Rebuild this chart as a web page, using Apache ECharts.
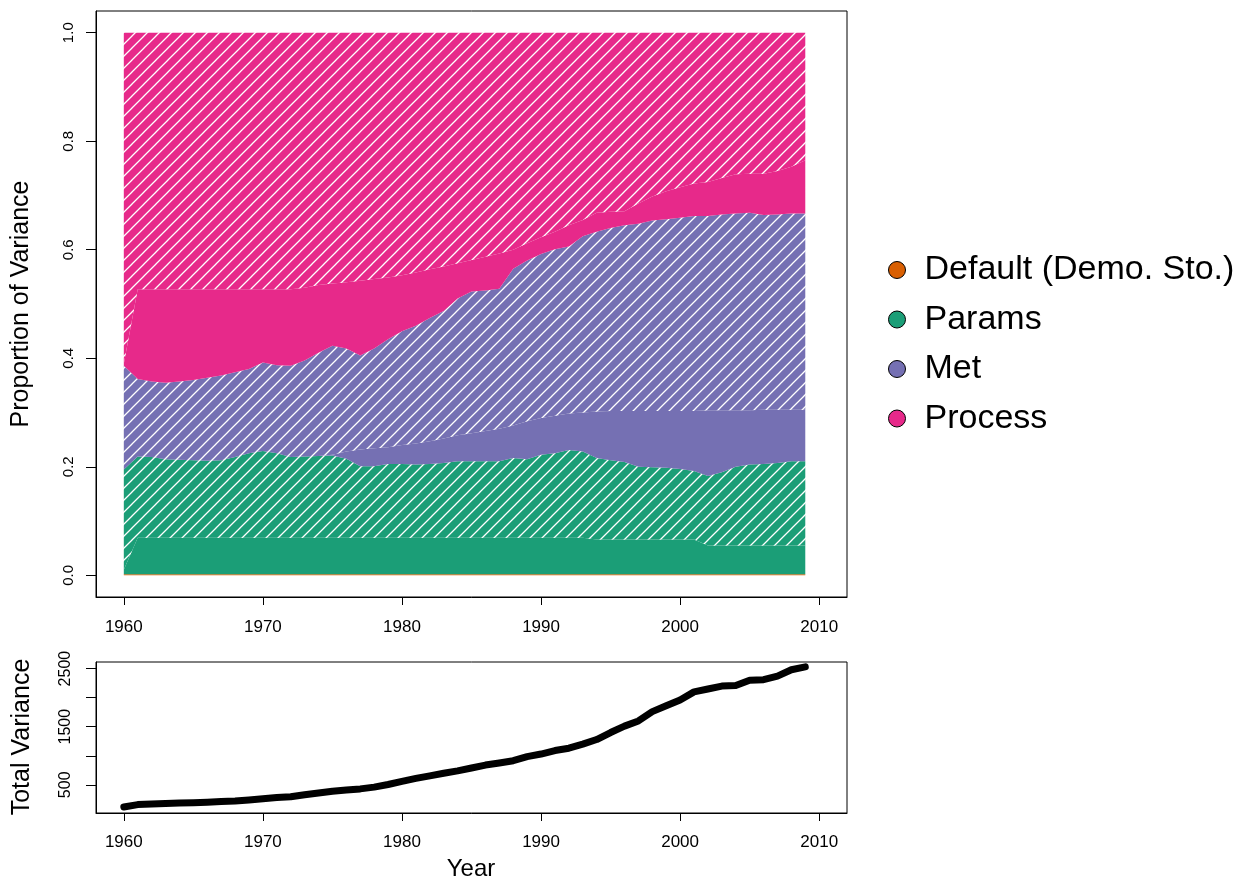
<!DOCTYPE html>
<html>
<head>
<meta charset="utf-8">
<title>Variance partitioning</title>
<script src="https://cdn.jsdelivr.net/npm/echarts@6/dist/echarts.min.js"></script>
<style>
  html, body { margin: 0; padding: 0; background: #fff; }
  #chart { width: 1253px; height: 882px; }
</style>
</head>
<body>
<div id="chart"></div>
<script>
// Years of the simulation
const years = [
  1960, 1961, 1962, 1963, 1964, 1965, 1966, 1967, 1968, 1969,
  1970, 1971, 1972, 1973, 1974, 1975, 1976, 1977, 1978, 1979,
  1980, 1981, 1982, 1983, 1984, 1985, 1986, 1987, 1988, 1989,
  1990, 1991, 1992, 1993, 1994, 1995, 1996, 1997, 1998, 1999,
  2000, 2001, 2002, 2003, 2004, 2005, 2006, 2007, 2008, 2009
];

// Cumulative upper edges of each band (proportion of variance)
const defaultTop = [
  0.002, 0.002, 0.002, 0.002, 0.002, 0.002, 0.002, 0.002, 0.002, 0.002,
  0.002, 0.002, 0.002, 0.002, 0.002, 0.002, 0.002, 0.002, 0.002, 0.002,
  0.002, 0.002, 0.002, 0.002, 0.002, 0.002, 0.002, 0.002, 0.002, 0.002,
  0.002, 0.002, 0.002, 0.002, 0.002, 0.002, 0.002, 0.002, 0.002, 0.002,
  0.002, 0.002, 0.002, 0.002, 0.002, 0.002, 0.002, 0.002, 0.002, 0.002
];
const paramsSolidTop = [
  0.010, 0.069, 0.069, 0.069, 0.069, 0.069, 0.069, 0.069, 0.069, 0.069,
  0.069, 0.069, 0.069, 0.069, 0.069, 0.069, 0.069, 0.069, 0.069, 0.069,
  0.069, 0.069, 0.069, 0.069, 0.069, 0.069, 0.069, 0.069, 0.069, 0.069,
  0.069, 0.069, 0.069, 0.069, 0.066, 0.066, 0.066, 0.066, 0.066, 0.066,
  0.066, 0.066, 0.055, 0.055, 0.055, 0.055, 0.055, 0.055, 0.055, 0.055
];
const paramsTop = [
  0.195, 0.219, 0.218, 0.214, 0.213, 0.212, 0.211, 0.212, 0.218, 0.225,
  0.229, 0.225, 0.218, 0.219, 0.220, 0.221, 0.215, 0.201, 0.201, 0.205,
  0.205, 0.204, 0.205, 0.207, 0.210, 0.210, 0.210, 0.210, 0.216, 0.214,
  0.222, 0.225, 0.231, 0.228, 0.216, 0.212, 0.209, 0.200, 0.199, 0.198,
  0.196, 0.192, 0.183, 0.190, 0.200, 0.204, 0.205, 0.207, 0.210, 0.210
];
const metSolidTop = [
  0.195, 0.219, 0.218, 0.214, 0.213, 0.212, 0.211, 0.212, 0.218, 0.225,
  0.229, 0.225, 0.218, 0.219, 0.220, 0.222, 0.228, 0.232, 0.234, 0.236,
  0.240, 0.243, 0.247, 0.252, 0.258, 0.262, 0.266, 0.270, 0.276, 0.284,
  0.290, 0.294, 0.298, 0.300, 0.302, 0.303, 0.303, 0.303, 0.303, 0.303,
  0.303, 0.303, 0.304, 0.304, 0.304, 0.304, 0.305, 0.305, 0.305, 0.305
];
const metTop = [
  0.386, 0.362, 0.357, 0.355, 0.357, 0.360, 0.364, 0.368, 0.374, 0.380,
  0.392, 0.387, 0.386, 0.396, 0.410, 0.423, 0.418, 0.405, 0.418, 0.435,
  0.450, 0.460, 0.474, 0.487, 0.510, 0.523, 0.525, 0.528, 0.565, 0.580,
  0.592, 0.601, 0.606, 0.625, 0.633, 0.640, 0.645, 0.648, 0.654, 0.656,
  0.659, 0.662, 0.662, 0.665, 0.667, 0.668, 0.664, 0.665, 0.667, 0.667
];
const processSolidTop = [
  0.390, 0.527, 0.527, 0.527, 0.527, 0.527, 0.527, 0.527, 0.527, 0.527,
  0.527, 0.527, 0.527, 0.530, 0.535, 0.538, 0.540, 0.543, 0.546, 0.549,
  0.553, 0.558, 0.564, 0.569, 0.575, 0.581, 0.587, 0.593, 0.600, 0.612,
  0.623, 0.633, 0.645, 0.655, 0.668, 0.670, 0.671, 0.685, 0.698, 0.708,
  0.715, 0.722, 0.725, 0.732, 0.739, 0.740, 0.740, 0.745, 0.753, 0.765
];
const processTop = [
  1, 1, 1, 1, 1, 1, 1, 1, 1, 1,
  1, 1, 1, 1, 1, 1, 1, 1, 1, 1,
  1, 1, 1, 1, 1, 1, 1, 1, 1, 1,
  1, 1, 1, 1, 1, 1, 1, 1, 1, 1,
  1, 1, 1, 1, 1, 1, 1, 1, 1, 1
];
const zeroLine = [
  0, 0, 0, 0, 0, 0, 0, 0, 0, 0,
  0, 0, 0, 0, 0, 0, 0, 0, 0, 0,
  0, 0, 0, 0, 0, 0, 0, 0, 0, 0,
  0, 0, 0, 0, 0, 0, 0, 0, 0, 0,
  0, 0, 0, 0, 0, 0, 0, 0, 0, 0
];

// Total variance per year
const totalVariance = [
  118, 160, 170, 178, 186, 193, 202, 212, 222, 240,
  260, 280, 295, 330, 360, 390, 410, 430, 460, 505,
  560, 610, 655, 700, 740, 790, 840, 875, 915, 985,
  1030, 1090, 1130, 1200, 1280, 1400, 1510, 1600, 1760, 1860,
  1960, 2100, 2150, 2200, 2210, 2300, 2310, 2370, 2480, 2530
];

// Axis ticks
const xTicks = [1960, 1970, 1980, 1990, 2000, 2010];
const propTicks = [0, 0.2, 0.4, 0.6, 0.8, 1.0];
const varTicks = [500, 1000, 1500, 2000, 2500];
const varLabels = [500, 1500, 2500];

const colors = {
  'Default (Demo. Sto.)': '#D95F02',
  'Params': '#1B9E77',
  'Met': '#7570B3',
  'Process': '#E7298A'
};

// Diagonal white hatching on top of a solid fill
function hatch(color) {
  const s = 12;
  const c = document.createElement('canvas');
  c.width = s; c.height = s;
  const g = c.getContext('2d');
  g.fillStyle = color;
  g.fillRect(0, 0, s, s);
  g.strokeStyle = '#ffffff';
  g.lineWidth = 1.3;
  g.beginPath();
  g.moveTo(-1, s + 1); g.lineTo(s + 1, -1);
  g.moveTo(-1, 1); g.lineTo(1, -1);
  g.moveTo(s - 1, s + 1); g.lineTo(s + 1, s - 1);
  g.stroke();
  return { image: c, repeat: 'repeat' };
}

// Bands: lower edge, upper edge, fill
const bands = [
  { name: 'Default (Demo. Sto.)', lower: zeroLine, upper: defaultTop, hatched: false },
  { name: 'Params', lower: defaultTop, upper: paramsSolidTop, hatched: false },
  { name: 'Params', lower: paramsSolidTop, upper: paramsTop, hatched: true },
  { name: 'Met', lower: paramsTop, upper: metSolidTop, hatched: false },
  { name: 'Met', lower: metSolidTop, upper: metTop, hatched: true },
  { name: 'Process', lower: metTop, upper: processSolidTop, hatched: false },
  { name: 'Process', lower: processSolidTop, upper: processTop, hatched: true }
];

const font = "'Liberation Sans', Helvetica, Arial, sans-serif";

// Each band is one polygon: upper edge left to right, lower edge back
const bandSeries = bands.map(b => {
  const fill = b.hatched ? hatch(colors[b.name]) : colors[b.name];
  return {
    type: 'custom',
    name: b.name,
    xAxisIndex: 0,
    yAxisIndex: 0,
    silent: true,
    itemStyle: { color: colors[b.name] },
    data: years.map((y, i) => [y, b.lower[i], b.upper[i]]),
    encode: { x: 0, y: [1, 2] },
    renderItem: (params, api) => {
      if (params.dataIndexInside !== 0) return null;
      const n = params.dataInsideLength;
      const pts = [];
      for (let i = 0; i < n; i++) pts.push(api.coord([api.value(0, i), api.value(2, i)]));
      for (let i = n - 1; i >= 0; i--) pts.push(api.coord([api.value(0, i), api.value(1, i)]));
      return {
        type: 'polygon',
        shape: { points: pts },
        style: { fill: fill, stroke: null }
      };
    }
  };
});

const chart = echarts.init(document.getElementById('chart'), null, { renderer: 'canvas' });

function xAxisFor(gridIndex, margin) {
  return {
    type: 'value',
    gridIndex: gridIndex,
    min: 1958,
    max: 2012,
    axisLine: { show: true, onZero: false, lineStyle: { color: '#000', width: 1 } },
    axisTick: { show: true, length: 8, lineStyle: { color: '#000', width: 1 }, customValues: xTicks },
    axisLabel: { color: '#000', fontSize: 17, fontFamily: font, margin: margin,
      customValues: xTicks, formatter: v => String(v) },
    splitLine: { show: false }
  };
}

chart.setOption({
  animation: false,
  backgroundColor: '#fff',
  grid: [
    { left: 96, top: 11, width: 751, height: 586, show: true, borderColor: '#000', borderWidth: 1, backgroundColor: 'transparent' },
    { left: 96, top: 662, width: 751, height: 151, show: true, borderColor: '#000', borderWidth: 1, backgroundColor: 'transparent' }
  ],
  xAxis: [xAxisFor(0, 22), xAxisFor(1, 21)],
  yAxis: [
    {
      type: 'value', gridIndex: 0, min: -0.04, max: 1.04,
      axisLine: { show: true, onZero: false, lineStyle: { color: '#000', width: 1 } },
      axisTick: { show: true, length: 10, lineStyle: { color: '#000' }, customValues: propTicks },
      axisLabel: { color: '#000', fontSize: 15, fontFamily: font, rotate: 90, margin: 20,
        customValues: propTicks, formatter: v => Number(v).toFixed(1) },
      splitLine: { show: false }
    },
    {
      type: 'value', gridIndex: 1, min: 15, max: 2614,
      axisLine: { show: true, onZero: false, lineStyle: { color: '#000', width: 1 } },
      axisTick: { show: true, length: 10, lineStyle: { color: '#000' }, customValues: varTicks },
      axisLabel: { color: '#000', fontSize: 16, fontFamily: font, rotate: 90, margin: 22,
        customValues: varLabels, formatter: v => String(v) },
      splitLine: { show: false }
    }
  ],
  legend: {
    orient: 'vertical',
    left: 883,
    top: 245,
    itemWidth: 17,
    itemHeight: 17,
    itemGap: 9.5,
    icon: 'circle',
    selectedMode: false,
    textStyle: { color: '#000', fontSize: 34, fontFamily: font, lineHeight: 40, padding: [0, 0, 0, 14] },
    data: Object.keys(colors).map(n => ({
      name: n,
      icon: 'circle',
      itemStyle: { color: colors[n], borderColor: '#000', borderWidth: 1 }
    }))
  },
  graphic: [
    { type: 'text', x: 21, y: 304, rotation: Math.PI / 2,
      style: { text: 'Proportion of Variance', font: '25px ' + font, fill: '#000', align: 'center', verticalAlign: 'middle' } },
    { type: 'text', x: 22, y: 737, rotation: Math.PI / 2,
      style: { text: 'Total Variance', font: '25px ' + font, fill: '#000', align: 'center', verticalAlign: 'middle' } },
    { type: 'text', x: 471, y: 869,
      style: { text: 'Year', font: '24px ' + font, fill: '#000', align: 'center', verticalAlign: 'middle' } }
  ],
  series: bandSeries.concat([
    {
      type: 'line',
      name: 'Total Variance',
      xAxisIndex: 1,
      yAxisIndex: 1,
      data: years.map((y, i) => [y, totalVariance[i]]),
      showSymbol: false,
      symbol: 'none',
      lineStyle: { color: '#000', width: 7, cap: 'round', join: 'round' },
      itemStyle: { color: '#000' },
      silent: true
    }
  ])
});
</script>
</body>
</html>
